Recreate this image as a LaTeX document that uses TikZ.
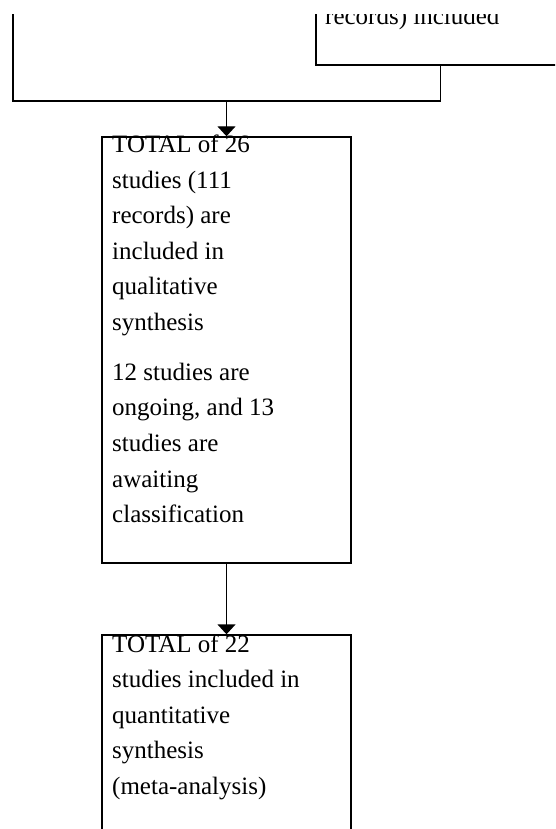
\documentclass[tikz,border=0pt]{standalone}
\usepackage{fontspec}
\setmainfont{Liberation Serif}
\usetikzlibrary{arrows.meta}

\begin{document}
\begin{tikzpicture}[x=1pt, y=-1pt,
		box/.style={draw, line width=1.4pt, rectangle, inner sep=0pt, minimum width=249pt},
		boxtext/.style={anchor=base west, inner sep=0pt, text width=236pt, align=flush left, font=\fontsize{25}{35.5}\selectfont},
		flow/.style={line width=1.4pt},
		arr/.style={flow, -{Triangle[width=18pt, length=10pt]}}]
		\useasboundingbox (0,0) rectangle (555,829);
		\clip (0,14.5) rectangle (555,829);
		% Boxes
		\node[box, minimum height=200pt] (incl) at (440.5,-35) {};
		\node[box, minimum height=426pt] (total) at (226.5,350) {};
		\node[box, minimum height=300pt] (quant) at (226.5,785) {};
		% Box texts
		\node[boxtext] (incltxt) at (325,25) {records) included};
		\node[boxtext] (totaltxt) at (112,153) {TOTAL of 26\\ studies (111\\ records) are\\ included in\\ qualitative\\ synthesis\\[14.5pt] 12 studies are\\ ongoing, and 13\\ studies are\\ awaiting\\ classification};
		\node[boxtext] (quanttxt) at (112,652) {TOTAL of 22\\ studies included in\\ quantitative\\ synthesis\\ (meta-analysis)};
		% Connectors
		\coordinate (lefttop) at (13,0);
		\coordinate (joint) at (226.5,101);
		\draw[flow] (lefttop) |- (joint) -| (incl.south);
		\draw[arr] (joint) -- (total.north);
		\draw[arr] (total.south) -- (quant.north);
	\end{tikzpicture}
\end{document}
